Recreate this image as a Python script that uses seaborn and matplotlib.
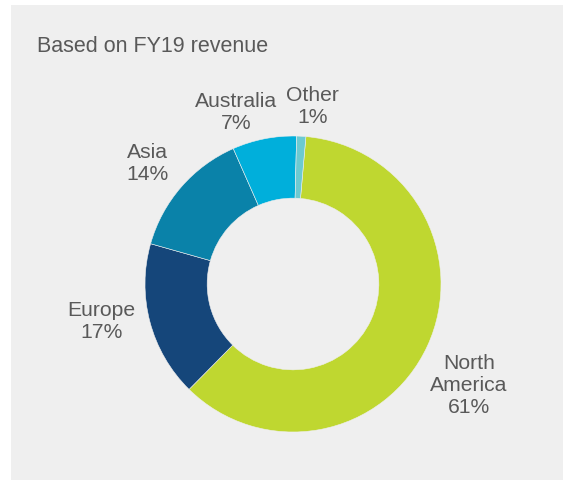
import numpy as np
import matplotlib
matplotlib.use("Agg")
import matplotlib.pyplot as plt
import seaborn as sns
from matplotlib.patches import Rectangle

regions = ["North\nAmerica", "Europe", "Asia", "Australia", "Other"]
shares = [61, 17, 14, 7, 1]
colors = ["#bfd730", "#15467a", "#0a82a9", "#00afdb", "#6ccad1"]
# label distance from centre (in outer radii) and angular nudge in degrees
label_r = [1.37, 1.32, 1.28, 1.23, 1.21]
label_nudge = [-5, -4, 1, 7, -3]

sns.set_theme(style="white")
plt.rcParams["font.family"] = ["Liberation Sans", "DejaVu Sans"]
text_col = "#595959"

W, H = 568, 481
cx, cy, R = 293, 285, 148
start = 85

fig = plt.figure(figsize=(W / 100, H / 100), dpi=100)
fig.patch.set_facecolor("white")
fig.patches.append(Rectangle((11 / W, 0), (563 - 11) / W, (H - 6) / H,
                             transform=fig.transFigure, facecolor="#efefef",
                             edgecolor="none", zorder=-10))

ax = fig.add_axes([0, 0, 1, 1])
ax.set_facecolor("none")
wedges, _ = ax.pie(shares, colors=colors, startangle=start, counterclock=False,
                   radius=1, wedgeprops=dict(width=0.42, edgecolor="#efefef", linewidth=0.4))
ax.set_xlim(-cx / R, (W - cx) / R)
ax.set_ylim(-(H - cy) / R, cy / R)
ax.set_aspect("auto")
ax.axis("off")

for w, name, val, r, nudge in zip(wedges, regions, shares, label_r, label_nudge):
    ang = np.deg2rad((w.theta1 + w.theta2) / 2 + nudge)
    ax.text(r * np.cos(ang), r * np.sin(ang), f"{name}\n{val}%", ha="center", va="center",
            fontsize=15.2, color=text_col, linespacing=1.2)

fig.text(37 / W, 1 - 46 / H, "Based on FY19 revenue", ha="left", va="center",
         fontsize=15.5, color=text_col)

plt.savefig("out.png", dpi=100)
